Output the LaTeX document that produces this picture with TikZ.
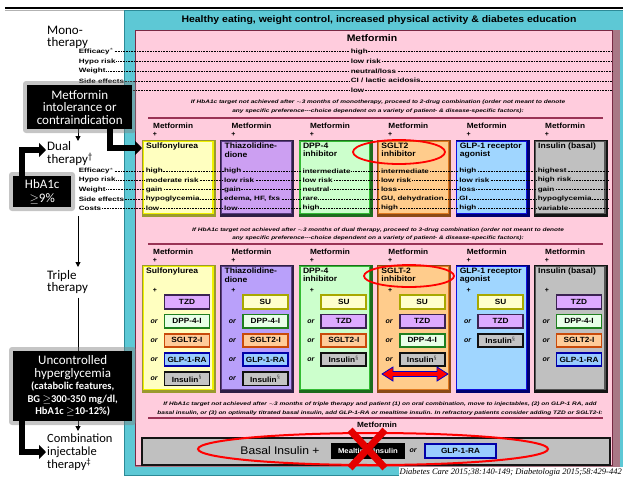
\documentclass[tikz,border=0pt]{standalone}
\usepackage{fontspec}
\setmainfont{Liberation Sans}
\newfontfamily\calfont{Carlito}
\newfontfamily\wfont{Liberation Sans}[FakeStretch=1.1]
\newfontfamily\wwfont{Liberation Sans}[FakeStretch=1.3]
\newfontfamily\citefont{Liberation Serif}
\usepackage{tikz}
\usetikzlibrary{arrows.meta,calc}
\pgfdeclarelayer{back}
\pgfsetlayers{back,main}

\definecolor{tealbg}{HTML}{5DC8D5}
\definecolor{tealdk}{HTML}{2C8A97}
\definecolor{pinkbg}{HTML}{FFCCDD}
\definecolor{pinkdk}{HTML}{A97886}
\definecolor{barline}{HTML}{993355}
% column boxes: fill / edge / dark
\definecolor{sufill}{HTML}{FFFFC0}\definecolor{suedge}{HTML}{F0F000}\definecolor{sudark}{HTML}{9A9A2E}
\definecolor{tzdfill}{HTML}{CC9FF2}\definecolor{tzdedge}{HTML}{5A3C80}\definecolor{tzddark}{HTML}{2F1F45}
\definecolor{tzdfillb}{HTML}{B9A0FA}
\definecolor{dppfill}{HTML}{CCFFCC}\definecolor{dppedge}{HTML}{33BB33}\definecolor{dppdark}{HTML}{1E6B1E}
\definecolor{sgltfill}{HTML}{FFCC8C}\definecolor{sgltedge}{HTML}{E07A20}\definecolor{sgltdark}{HTML}{8A4A16}
\definecolor{glpfill}{HTML}{A0D6FF}\definecolor{glpedge}{HTML}{1010E0}\definecolor{glpdark}{HTML}{00006E}
\definecolor{insfill}{HTML}{C0C0C0}\definecolor{insedge}{HTML}{555555}\definecolor{insdark}{HTML}{141414}
% add-on boxes
\definecolor{susbf}{HTML}{FFFFCC}\definecolor{susbd}{HTML}{A8A800}
\definecolor{tzdsbf}{HTML}{DDAAFF}\definecolor{tzdsbd}{HTML}{3B2352}
\definecolor{dppsbf}{HTML}{E8FFE8}\definecolor{dppsbd}{HTML}{1F7F1F}
\definecolor{sgltsbf}{HTML}{FFCC99}\definecolor{sgltsbd}{HTML}{C94A0A}
\definecolor{glpsbf}{HTML}{99CCFF}\definecolor{glpsbd}{HTML}{0000A8}
\definecolor{inssbf}{HTML}{C4C4C4}\definecolor{inssbd}{HTML}{111111}

% dual column: name, x, fill, edge, dark, title, values
\newcommand{\dualcol}[7]{%
  \begin{pgfonlayer}{back}
    \fill[#5] (#2,140) rectangle ++(74,77);
    \filldraw[fill=#3,draw=#4,line width=1.2pt] (#2+1.2,141.2) rectangle (#2+71,213.5);
  \end{pgfonlayer}
  \node[metlbl] (#1met) at (#2+11,126) {Metformin};
  \node[plusmark] at (#2+13,134) {+};
  \node[coltitle] (#1ttl) at (#2+4,143) {#6};
  \foreach \v [count=\k] in {#7} {\node[rowtxt,fill=#3] (#1v\k) at (#2+3,{161.6+9.3*\k}) {\v};}%
}
% triple column: name, x, fill, edge, dark, title
\newcommand{\triplecol}[6]{%
  \begin{pgfonlayer}{back}
    \fill[#5] (#2,265) rectangle ++(74,128);
    \filldraw[fill=#3,draw=#4,line width=1.2pt] (#2+1.2,266.2) rectangle (#2+71,389.5);
  \end{pgfonlayer}
  \node[metlbl] (#1met) at (#2+11,252) {Metformin};
  \node[plusmark] at (#2+13,260) {+};
  \node[coltitle] (#1ttl) at (#2+4,268) {#6};
  \node[plusmark] at (#2+13,290) {+};
}
% add-on boxes: name, x, list of style/label
\newcommand{\addons}[3]{%
  \foreach \s/\t [count=\r] in {#3} {%
    \node[addon,\s] (#1a\r) at (#2+45,{282.8+19.2*\r}) {\t};
    \ifnum\r>1 \node[ortxt] at (#2+12,{282.8+19.2*\r}) {or};\fi}%
}

\begin{document}
\begin{tikzpicture}[x=1pt,y=-1pt,
  flowtxt/.style={font=\calfont\fontsize{13}{12}\selectfont, align=left, anchor=north west, inner sep=0pt},
  bbox/.style={fill=black, text=white, align=center, inner sep=0pt, font=\calfont\fontsize{13}{12.5}\selectfont},
  halo/.style={gray, opacity=0.45, rounded corners=3pt},
  thinarrow/.style={line width=1pt, -{Triangle[length=5pt,width=5pt]}},
  fat/.style={line width=5.5pt, -{Triangle[length=7pt,width=14pt]}},
  rowtxt/.style={font=\wwfont\bfseries\fontsize{6.2}{7}\selectfont, anchor=west, inner sep=0.6pt},
  dotline/.style={densely dotted, line width=0.6pt},
  notetxt/.style={font=\wwfont\bfseries\itshape\fontsize{5}{8.5}\selectfont, align=center, inner sep=0pt},
  rulebar/.style={barline, line width=1.3pt},
  metlbl/.style={font=\wfont\bfseries\fontsize{7.5}{8}\selectfont, anchor=west, inner sep=0pt},
  plusmark/.style={font=\bfseries\fontsize{7}{8}\selectfont, inner sep=0pt},
  coltitle/.style={font=\wfont\bfseries\fontsize{7.8}{8.3}\selectfont, anchor=north west, align=left, inner sep=0pt},
  addon/.style={line width=1.8pt, minimum width=45, minimum height=13.5, inner sep=0pt, font=\wfont\bfseries\fontsize{7.5}{8}\selectfont},
  susb/.style={fill=susbf, draw=susbd},
  tzdsb/.style={fill=tzdsbf, draw=tzdsbd},
  dppsb/.style={fill=dppsbf, draw=dppsbd},
  sgltsb/.style={fill=sgltsbf, draw=sgltsbd},
  glpsb/.style={fill=glpsbf, draw=glpsbd},
  inssb/.style={fill=inssbf, draw=inssbd},
  ortxt/.style={font=\bfseries\itshape\fontsize{7}{8}\selectfont, inner sep=0pt},
  redring/.style={red, line width=1.8pt}]
\useasboundingbox (0,0) rectangle (623,477);

% panels
\begin{pgfonlayer}{back}
  \fill[white] (0,0) rectangle (623,477);
  \draw[black, line width=1.2pt] (5,8) -- (623,8);
  \draw[gray!60, line width=0.5pt] (5,10.5) -- (124,10.5);
  \filldraw[fill=tealbg, draw=tealdk, line width=1pt] (124,10) rectangle (626,475);
  \fill[pinkdk] (135,30) rectangle (620,467);
  \filldraw[fill=pinkbg, draw=barline!80!black, line width=0.8pt] (135,30) rectangle (612,465);
\end{pgfonlayer}
\node[font=\wfont\bfseries\fontsize{9.5}{10}\selectfont, inner sep=0pt] (head) at (379,20)
  {Healthy eating, weight control, increased physical activity \& diabetes education};
\node[font=\wfont\bfseries\fontsize{9.5}{10}\selectfont, inner sep=0pt] (met) at (372,38) {Metformin};

% efficacy rows (mono costs label sits under the black box)
\coordinate (monoR) at (612,0);
\coordinate (dualR) at (609,0);
\foreach \lbl [count=\k] in {Efficacy$^{*}$,Hypo risk,Weight,Side effects,Costs} {
  \ifnum\k<5
    \node[rowtxt] (ml\k) at (78,{42+9.7*\k}) {\lbl};
  \else
    \coordinate (ml\k) at (120,{42+9.7*\k});
  \fi
  \draw[dotline] (ml\k.east) -- (ml\k.east -| monoR);
  \node[rowtxt] (dl\k) at (78,{161.6+9.3*\k}) {\lbl};
  \draw[dotline] (dl\k.east) -- (dl\k.east -| dualR);
}
\foreach \v [count=\k] in {high,low risk,neutral/loss,CI / lactic acidosis,low}
  {\node[rowtxt,fill=pinkbg] (mv\k) at (350,{42+9.7*\k}) {\v};}

\node[notetxt] (note1) at (378,106.5) {If HbA1c target not achieved after $\sim$3 months of monotherapy, proceed to 2-drug combination (order not meant to denote\\any specific preference---choice dependent on a variety of patient- \& disease-specific factors):};
\draw[rulebar] (148,118) -- (603,118);

% dual therapy
\dualcol{d1}{142}{sufill}{suedge}{sudark}{Sulfonylurea}{high,moderate risk,gain,hypoglycemia,low}
\dualcol{d2}{220.4}{tzdfill}{tzdedge}{tzddark}{Thiazolidine-\\dione}{high,low risk,gain,{edema, HF, fxs},low}
\dualcol{d3}{298.8}{dppfill}{dppedge}{dppdark}{DPP-4\\inhibitor}{intermediate,low risk,neutral,rare,high}
\dualcol{d4}{377.2}{sgltfill}{sgltedge}{sgltdark}{SGLT2\\inhibitor}{intermediate,low risk,loss,{GU, dehydration},high}
\dualcol{d5}{455.6}{glpfill}{glpedge}{glpdark}{GLP-1 receptor\\agonist}{high,low risk,loss,GI,high}
\dualcol{d6}{534}{insfill}{insedge}{insdark}{Insulin (basal)}{highest,high risk,gain,hypoglycemia,variable}

\node[notetxt] (note2) at (378,234) {If HbA1c target not achieved after $\sim$3 months of dual therapy, proceed to 3-drug combination (order not meant to denote\\any specific preference---choice dependent on a variety of patient- \& disease-specific factors):};
\draw[rulebar] (148,244) -- (603,244);

% triple therapy
\triplecol{t1}{142}{sufill}{suedge}{sudark}{Sulfonylurea}
\triplecol{t2}{220.4}{tzdfillb}{tzdedge}{tzddark}{Thiazolidine-\\dione}
\triplecol{t3}{298.8}{dppfill}{dppedge}{dppdark}{DPP-4\\inhibitor}
\triplecol{t4}{377.2}{sgltfill}{sgltedge}{sgltdark}{SGLT-2\\inhibitor}
\triplecol{t5}{455.6}{glpfill}{glpedge}{glpdark}{GLP-1 receptor\\agonist}
\triplecol{t6}{534}{insfill}{insedge}{insdark}{Insulin (basal)}
\addons{t1}{142}{tzdsb/TZD,dppsb/DPP-4-I,sgltsb/SGLT2-I,glpsb/GLP-1-RA,inssb/Insulin$^{\S}$}
\addons{t2}{220.4}{susb/SU,dppsb/DPP-4-I,sgltsb/SGLT2-I,glpsb/GLP-1-RA,inssb/Insulin$^{\S}$}
\addons{t3}{298.8}{susb/SU,tzdsb/TZD,sgltsb/SGLT2-I,inssb/Insulin$^{\S}$}
\addons{t4}{377.2}{susb/SU,tzdsb/TZD,dppsb/DPP-4-I,inssb/Insulin$^{\S}$}
\addons{t5}{455.6}{susb/SU,tzdsb/TZD,inssb/Insulin$^{\S}$}
\addons{t6}{534}{tzdsb/TZD,dppsb/DPP-4-I,sgltsb/SGLT2-I,glpsb/GLP-1-RA}

% red marks on SGLT2
\draw[redring] (399,152) ellipse [x radius=46, y radius=12];
\draw[redring] (409,276) ellipse [x radius=45, y radius=11];
\filldraw[fill=red, draw=blue!80!black, line width=0.8pt] (382,374) -- (393,367) -- (393,371.5) -- (437,371.5)
  -- (437,367) -- (448,374) -- (437,381) -- (437,376.5) -- (393,376.5) -- (393,381) -- cycle;

% injectable step
\node[notetxt] (note3) at (380,408.5) {If HbA1c target not achieved after $\sim$3 months of triple therapy and patient (1) on oral combination, move to injectables, (2) on GLP-1 RA, add\\basal insulin, or (3) on optimally titrated basal insulin, add GLP-1-RA or mealtime insulin. In refractory patients consider adding TZD or SGLT2-I:};
\draw[rulebar] (148,418) -- (603,418);
\node[metlbl, anchor=center] (met4) at (377,425) {Metformin};
\filldraw[fill=insfill, draw=insdark, line width=1.5pt] (142,438) rectangle (610,465);
\node[font=\wfont\fontsize{11}{12}\selectfont, inner sep=0pt] (basal) at (280,450.5) {Basal Insulin +};
\node[fill=black, text=white, minimum width=74, minimum height=16, inner sep=0pt,
  font=\wfont\bfseries\fontsize{7}{8}\selectfont] (meal) at (368,451) {Mealtime Insulin};
\node[ortxt] (or4) at (413,451) {or};
\node[addon, glpsb, minimum width=71, minimum height=14] (glpb) at (460.5,451) {GLP-1-RA};
\draw[red, line width=2pt] (373,449) ellipse [x radius=175, y radius=16];
\draw[red!90!black, line width=7pt] (350,430) -- (385,468) (385,430) -- (350,468);
\node[fill=white, anchor=south east, inner sep=1pt, font=\citefont\itshape\fontsize{8.5}{9}\selectfont] (cite)
  at (623,477) {Diabetes Care 2015;38:140-149; Diabetologia 2015;58:429-442};

% left flow
\node[flowtxt] (mono) at (47,26) {Mono-\\therapy};
\node[flowtxt, font=\calfont\fontsize{13}{13.5}\selectfont] (dual) at (47,141) {Dual\\therapy\textsuperscript{\textdagger}};
\node[flowtxt] (triple) at (47,270) {Triple\\therapy};
\node[flowtxt, font=\calfont\fontsize{12.5}{12.5}\selectfont] (combo) at (47,434)
  {Combination\\injectable\\therapy\textsuperscript{\textdaggerdbl}};
\coordinate (ax) at (78,0);
\coordinate (hx) at (22,0);
\coordinate (m0) at (78,96);
\coordinate (d0) at (78,216);
\draw[thinarrow] (m0) -- (dual.north -| m0);
\draw[thinarrow, shorten >=3pt] (d0) -- (triple.north -| ax);
\draw[thinarrow, shorten <=4pt, shorten >=3pt] (triple.south -| ax) -- (combo.north -| ax);

\fill[halo] (23,81) rectangle (136,133);
\node[bbox, minimum width=105, minimum height=44, anchor=north west] (intol) at (27,85)
  {Metformin\\intolerance or\\contraindication};
\fill[halo] (9,172) rectangle (75,211);
\node[bbox, font=\calfont\fontsize{13}{14.5}\selectfont, minimum width=58, minimum height=31, anchor=north west] (hba)
  at (13,176) {HbA1c\\$\geq$9\%};
\fill[halo] (9,347) rectangle (136,425);
\node[bbox, minimum width=119, minimum height=70, anchor=north west] (unc) at (13,351)
  {Uncontrolled\\hyperglycemia\\{\bfseries\fontsize{10.5}{13}\selectfont (catabolic features,}\\{\bfseries\fontsize{10.5}{13}\selectfont BG $\geq$300-350 mg/dl,}\\{\bfseries\fontsize{10.5}{13}\selectfont HbA1c $\geq$10-12\%)}};
\coordinate (du1) at (142,148);
\draw[fat] (intol.south -| 110,0) |- (du1);
\draw[fat] (hba.north -| hx) |- ($(dual.north west)+(-1,9)$);
\draw[fat] (unc.south -| hx) |- ($(combo.north west)+(-1,18)$);
\end{tikzpicture}
\end{document}
